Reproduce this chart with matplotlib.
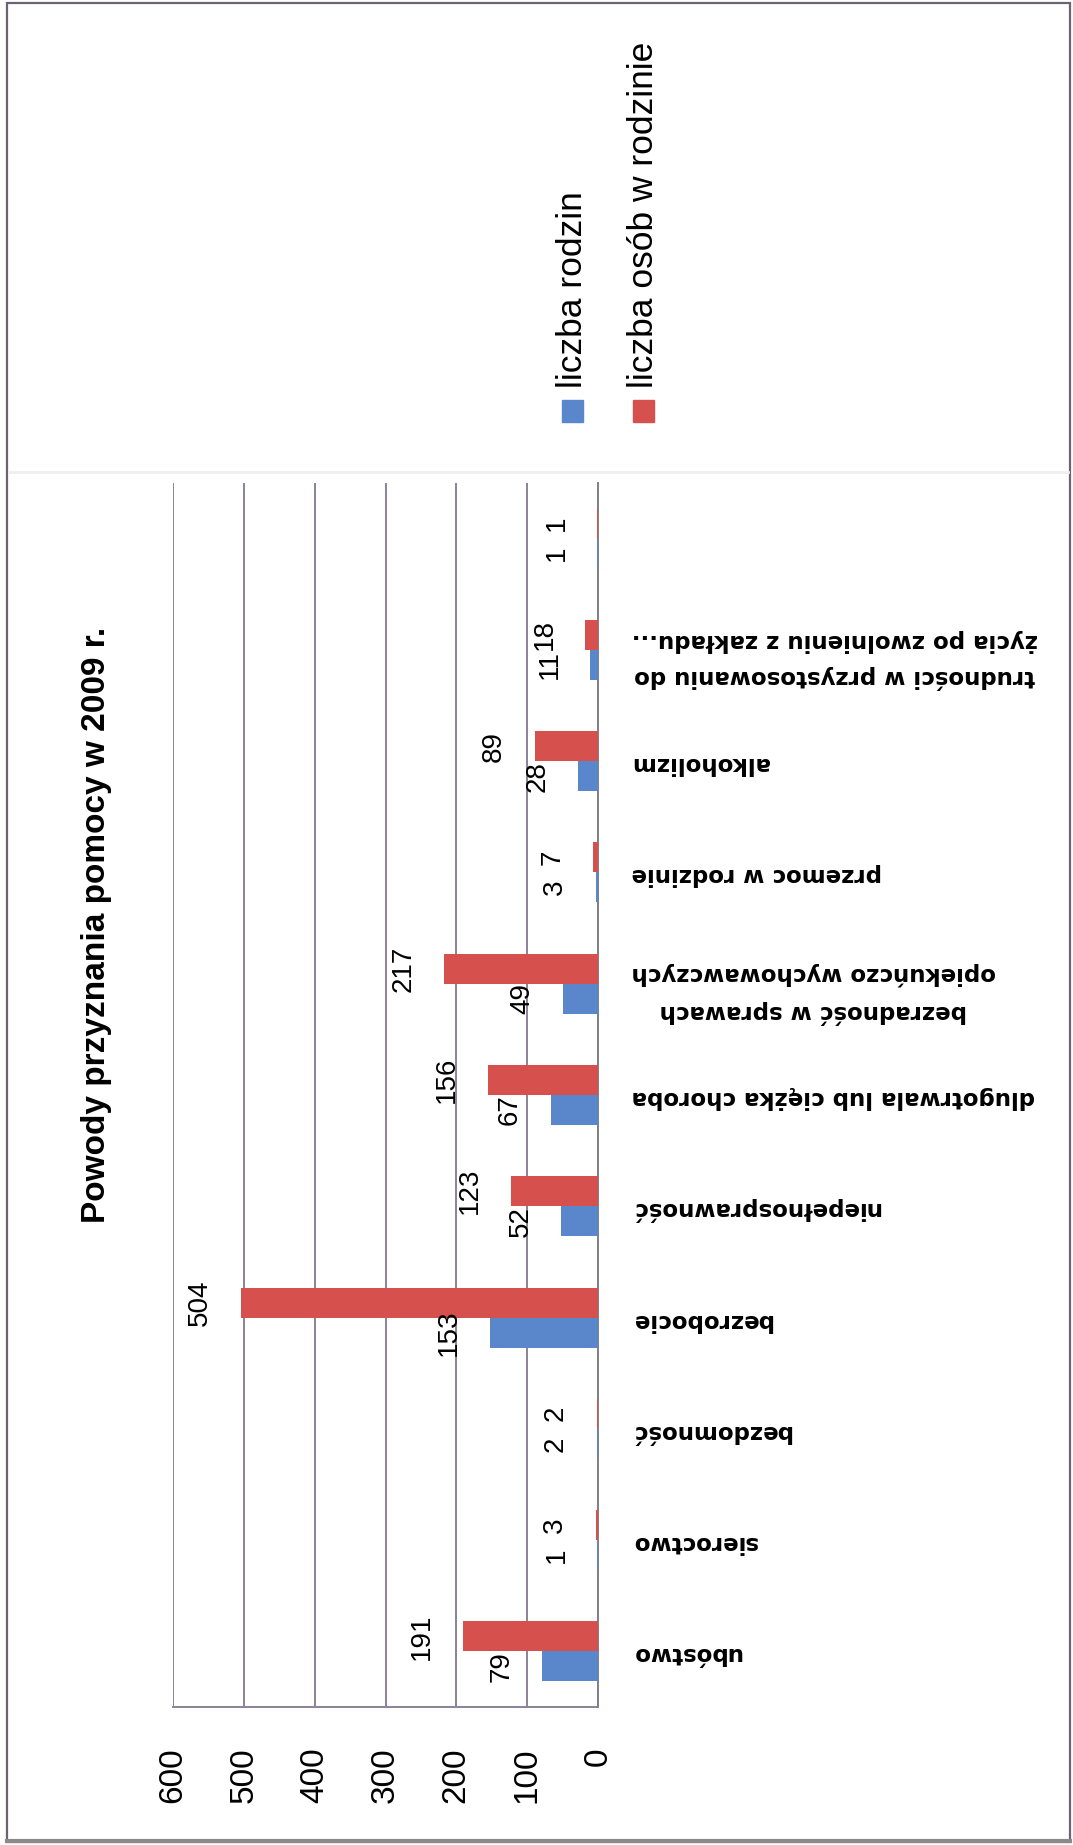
import matplotlib
matplotlib.use("Agg")
import matplotlib.pyplot as plt
import numpy as np
from matplotlib.patches import Rectangle
from matplotlib.lines import Line2D

# Dane z wykresu (kolejność kategorii od dołu do góry)
kategorie = ["ubóstwo", "sieroctwo", "bezdomność", "bezrobocie", "niepełnosprawność",
             "dlugotrwala lub ciężka choroba",
             "bezradność w sprawach\nopiekuńczo wychowawczych",
             "przemoc w rodzinie", "alkoholizm",
             "trudności w przystosowaniu do\nżycia po zwolnieniu z zakładu...", ""]
rodziny = [79, 1, 2, 153, 52, 67, 49, 3, 28, 11, 1]
osoby = [191, 3, 2, 504, 123, 156, 217, 7, 89, 18, 1]
serie = ["liczba rodzin", "liczba osób w rodzinie"]
tytul = "Powody przyznania pomocy w 2009 r."
ticki = [0, 100, 200, 300, 400, 500, 600]

niebieski = "#5a86cc"
czerwony = "#d6504e"
siatka = "#8c8296"
W, H = 1073, 1845

fig = plt.figure(figsize=(W / 100, H / 100), dpi=100)
ax = fig.add_axes([173 / W, (H - 1707) / H, (598 - 173) / W, (1707 - 483) / H])

y = np.arange(len(kategorie))
ax.barh(y - 0.135, rodziny, height=0.27, color=niebieski, zorder=3)
ax.barh(y + 0.135, osoby, height=0.27, color=czerwony, zorder=3)

ax.set_xlim(600, 0)
ax.set_ylim(-0.5, len(kategorie) - 0.5)
ax.set_xticks(ticki)
ax.grid(axis="x", color=siatka, lw=1.4)
ax.set_axisbelow(True)
for s in ["top", "left"]:
    ax.spines[s].set_visible(False)
ax.spines["bottom"].set_color(siatka)
ax.spines["bottom"].set_linewidth(1.4)
ax.spines["right"].set_color("#808080")
ax.spines["right"].set_linewidth(1.4)

ax.tick_params(axis="x", length=0, pad=29, labelrotation=90)
for t in ax.get_xticklabels():
    t.set_family("Liberation Sans")
    t.set_fontsize(24)

ax.yaxis.tick_right()
ax.set_yticks(y, kategorie)
ax.tick_params(axis="y", length=0, pad=24, labelrotation=180)
for t in ax.get_yticklabels():
    t.set_family("DejaVu Sans")
    t.set_fontweight("bold")
    t.set_fontsize(16.5)
    t.set_multialignment("center")
    t.set_linespacing(1.75)

# etykiety danych
for yy, v in zip(y - 0.135, rodziny):
    ax.annotate(str(v), xy=(v, yy), xytext=(-20, 0), textcoords="offset points",
                rotation=90, ha="right", va="center", fontsize=20,
                family="Liberation Sans")
for yy, v in zip(y + 0.135, osoby):
    ax.annotate(str(v), xy=(v, yy), xytext=(-20, 0), textcoords="offset points",
                rotation=90, ha="right", va="center", fontsize=20,
                family="Liberation Sans")

fig.text(97 / W, 1 - 925 / H, tytul, rotation=90, ha="center", va="center",
         fontsize=24, fontweight="bold", family="Liberation Sans")

# legenda
for i, (nazwa, kol) in enumerate(zip(serie, [niebieski, czerwony])):
    xc = 572 + i * 71
    fig.patches.append(Rectangle(((xc - 10) / W, 1 - 422 / H), 21 / W, 22 / H,
                                 transform=fig.transFigure, color=kol))
    fig.text(xc / W, 1 - 388 / H, nazwa, rotation=90, ha="center", va="bottom",
             fontsize=25.5, family="Liberation Sans")

# ramka i linia oddzielająca
fig.lines.append(Line2D([10 / W, 1068 / W], [1 - 472 / H, 1 - 472 / H],
                        transform=fig.transFigure, color="#efefef", lw=2))
fig.patches.append(Rectangle((7 / W, 1 - 1842 / H), 1063 / W, 1839 / H,
                             transform=fig.transFigure, fill=False,
                             edgecolor="#6b6272", lw=1.6))
fig.lines.append(Line2D([7 / W, 1070 / W], [1 - 1841 / H, 1 - 1841 / H],
                        transform=fig.transFigure, color="#8a8a8a", lw=3))

fig.savefig("out.png", dpi=100)
